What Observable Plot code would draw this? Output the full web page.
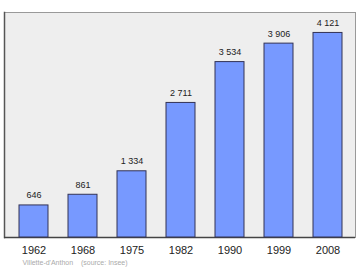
<!DOCTYPE html>
<html>
<head>
<meta charset="utf-8">
<script src="https://cdn.jsdelivr.net/npm/d3@7"></script>
<script src="https://cdn.jsdelivr.net/npm/@observablehq/plot@0.6"></script>
<style>
  html, body { margin: 0; padding: 0; background: #fff; }
  #chart svg { display: block; font-family: "Liberation Sans", Arial, sans-serif; }
</style>
</head>
<body>
<div id="chart"></div>
<script>
const years = ["1962", "1968", "1975", "1982", "1990", "1999", "2008"];
const population = [646, 861, 1334, 2711, 3534, 3906, 4121];
const valueLabels = ["646", "861", "1 334", "2 711", "3 534", "3 906", "4 121"];
const caption = "Villette-d'Anthon    (source: Insee)";

const data = years.map((y, i) => ({year: y, pop: population[i], label: valueLabels[i]}));

const chart = Plot.plot({
  width: 360,
  height: 270,
  marginLeft: 4,
  marginRight: 5,
  marginTop: 12,
  marginBottom: 33,
  style: {background: "#fff", fontFamily: "Liberation Sans, Arial, sans-serif"},
  x: {domain: years, range: [8.4, 352.8], paddingInner: 0.41, paddingOuter: 0.205, axis: null, label: null},
  y: {domain: [0, 4533], axis: null},
  marks: [
    Plot.frame({fill: "#eeeeee", stroke: "#999999", strokeWidth: 1}),
    Plot.frame({anchor: "left", stroke: "#555", strokeWidth: 1.5}),
    Plot.ruleY([0], {stroke: "#444", strokeWidth: 1.5}),
    Plot.barY(data, {x: "year", y: "pop", fill: "#7799ff", stroke: "#333355", strokeWidth: 1}),
    Plot.text(data, {x: "year", y: "pop", text: "label", dy: -10, fontSize: 9, fill: "#222"}),
    Plot.axisX({tickSize: 0, tickPadding: 9, fontSize: 11, fill: "#222", label: null}),
    Plot.text([caption], {frameAnchor: "bottom-left", dx: 18, dy: 25, fontSize: 7, fill: "#aaaaaa", textAnchor: "start", lineAnchor: "middle"})
  ]
});
document.getElementById("chart").appendChild(chart);
</script>
</body>
</html>
